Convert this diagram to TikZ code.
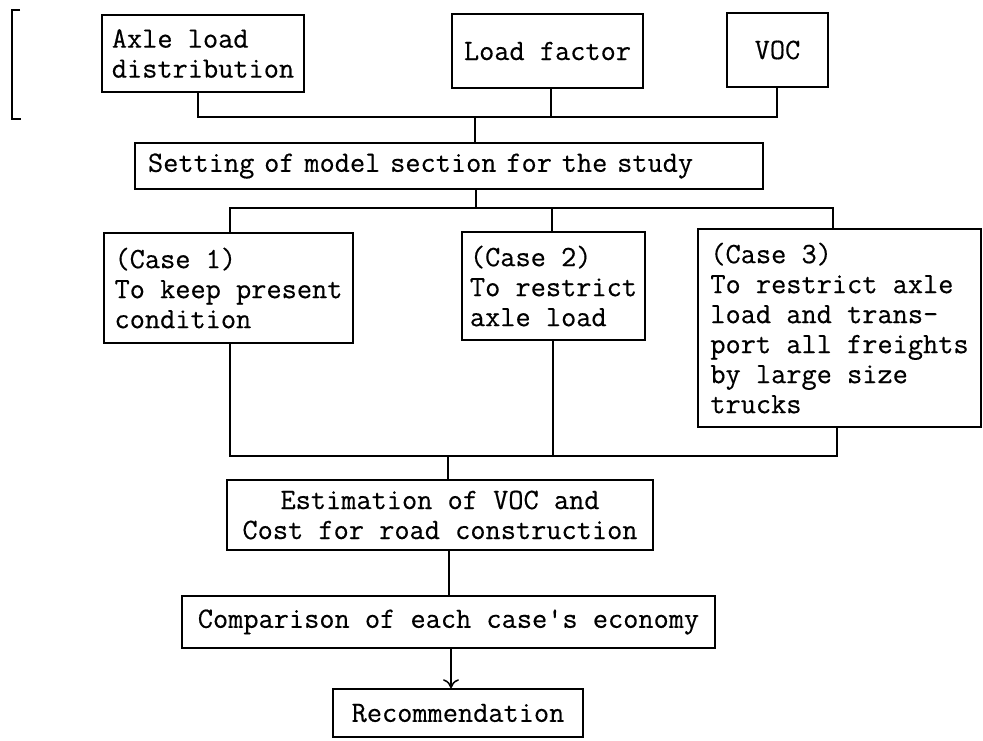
\documentclass[tikz,border=0pt]{standalone}
\usepackage{fontspec}
\newfontfamily\twfont[FakeBold=0.4]{Latin Modern Mono}
\usetikzlibrary{arrows.meta}
\tikzset{
  box/.style={draw, line width=1.5pt, inner sep=0pt, align=left,
    font=\fontsize{29.5}{30}\selectfont\twfont},
  wire/.style={line width=1.5pt},
}
\begin{document}
\begin{tikzpicture}[x=1pt,y=-1pt]
\useasboundingbox (0,0) rectangle (983,740);
% stray bracket
\draw[wire] (20,10) -- (12,10) -- (12,119) -- (21,119);
% top row
\node[box, minimum width=202, minimum height=77] (axle) at (203,53.5) {Axle load\\distribution};
\node[box, minimum width=191, minimum height=74] (lf) at (547.5,51) {Load factor};
\node[box, minimum width=101, minimum height=74] (voc) at (777.5,50) {VOC};
\node[box, text width=602, minimum width=628, minimum height=46] (set) at (449,166) {Setting of model section for the study};
% cases
\node[box, minimum width=249, minimum height=110] (c1) at (228.5,288) {(Case 1)\\To keep present\\condition};
\node[box, minimum width=183, minimum height=108] (c2) at (553.5,286) {(Case 2)\\To restrict\\axle load};
\node[box, minimum width=283, minimum height=198] (c3) at (839.5,328) {(Case 3)\\To restrict axle\\load and trans-\\port all freights\\by large size\\trucks};
% lower
\node[box, align=center, minimum width=426, minimum height=70] (est) at (440,515) {Estimation of VOC and\\Cost for road construction};
\node[box, minimum width=533, minimum height=52] (cmp) at (448.5,622) {Comparison of each case\textquotesingle s economy};
\node[box, minimum width=250, minimum height=48] (rec) at (458,713) {Recommendation};
% junctions
\coordinate (ja) at (198,117);
\coordinate (jl) at (551,117);
\coordinate (jv) at (777,117);
\coordinate (jm) at (475,117);
\coordinate (ks) at (476,208);
\coordinate (k1) at (230,208);
\coordinate (k2) at (552,208);
\coordinate (k3) at (833,208);
\coordinate (m1) at (230,456);
\coordinate (m2) at (553,456);
\coordinate (m3) at (837,456);
\coordinate (mm) at (448,456);
\coordinate (ne) at (449,0);
\coordinate (nc) at (451,0);
% connectors top
\draw[wire] (ja |- axle.south) -- (ja) -- (jv) -- (jv |- voc.south);
\draw[wire] (jl |- lf.south) -- (jl);
\draw[wire] (jm) -- (jm |- set.north);
% connectors to cases
\draw[wire] (ks |- set.south) -- (ks);
\draw[wire] (k1 |- c1.north) -- (k1) -- (k3) -- (k3 |- c3.north);
\draw[wire] (k2) -- (k2 |- c2.north);
% connectors from cases
\draw[wire] (m1 |- c1.south) -- (m1) -- (m3) -- (m3 |- c3.south);
\draw[wire] (m2 |- c2.south) -- (m2);
\draw[wire] (mm) -- (mm |- est.north);
\draw[wire] (ne |- est.south) -- (ne |- cmp.north);
\draw[wire, -{To[length=9pt,width=16pt,line width=1.5pt]}] (nc |- cmp.south) -- (nc |- rec.north);
\end{tikzpicture}
\end{document}
